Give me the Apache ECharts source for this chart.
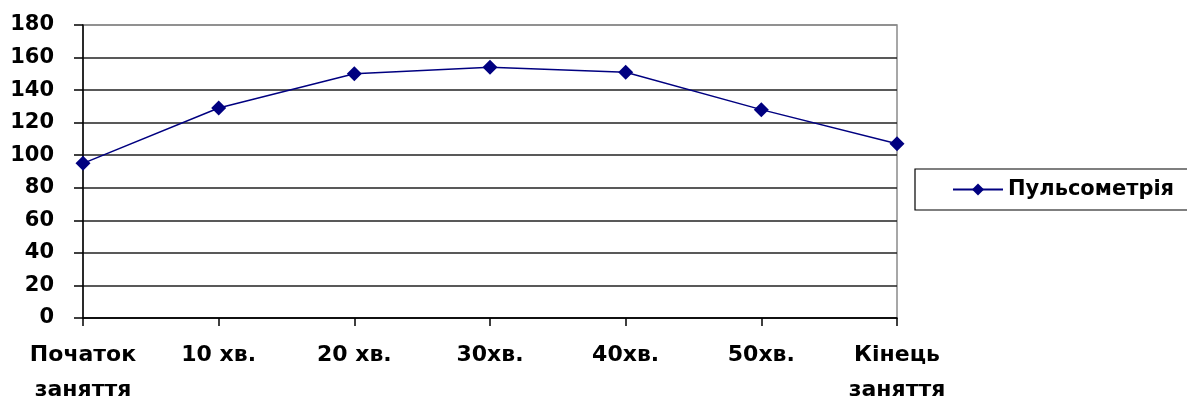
<!DOCTYPE html>
<html>
<head>
<meta charset="utf-8">
<script src="https://cdn.jsdelivr.net/npm/echarts@6/dist/echarts.min.js"></script>
<style>html,body{margin:0;padding:0;background:#fff;}#c{width:1187px;height:397px;}</style>
</head>
<body>
<div id="c"></div>
<script>
const categories = ['Початок\nзаняття', '10 хв.', '20 хв.', '30хв.', '40хв.', '50хв.', 'Кінець\nзаняття'];
const seriesName = 'Пульсометрія';
const pulse = [95, 129, 150, 154, 151, 128, 107];
const yTicks = { min: 0, max: 180, step: 20 };

const chart = echarts.init(document.getElementById('c'));
const font = 'DejaVu Sans';
const gridLineColors = ['#222', '#222', '#222', '#222', '#222', '#222', '#222', '#222', '#222', '#8a8a8a'];
chart.setOption({
  animation: false,
  backgroundColor: '#fff',
  grid: { left: 83, right: 290, top: 25, bottom: 79, show: true, borderColor: '#8a8a8a', borderWidth: 1.5, containLabel: false, outerBoundsMode: 'none' },
  legend: {
    left: 915, top: 169, orient: 'vertical',
    padding: [10, 14, 10, 37],
    borderColor: '#000', borderWidth: 1.2,
    itemWidth: 50, itemHeight: 15,
    textStyle: { fontFamily: font, fontWeight: 'bold', fontSize: 21, color: '#000' },
    data: [seriesName]
  },
  xAxis: {
    type: 'category', data: categories, boundaryGap: false,
    axisLine: { lineStyle: { color: '#000', width: 1.5 } },
    axisTick: { show: true, length: 8, lineStyle: { color: '#000', width: 1.5 } },
    axisLabel: { fontFamily: font, fontWeight: 'bold', fontSize: 22, color: '#000', margin: 20, lineHeight: 35, interval: 0 },
    splitLine: { show: false }
  },
  yAxis: {
    type: 'value', min: yTicks.min, max: yTicks.max, interval: yTicks.step,
    axisLine: { show: true, lineStyle: { color: '#000', width: 1.5 } },
    axisTick: { show: true, length: 9, lineStyle: { color: '#000', width: 1.5 } },
    axisLabel: { fontFamily: font, fontWeight: 'bold', fontSize: 21, color: '#000', margin: 29 },
    splitLine: { show: true, lineStyle: { color: gridLineColors, width: 1.5 } }
  },
  series: [{
    name: seriesName, type: 'line', data: pulse,
    symbol: 'diamond', symbolSize: 15,
    lineStyle: { color: '#000080', width: 1.5 },
    itemStyle: { color: '#000080' }
  }]
});
</script>
</body>
</html>
